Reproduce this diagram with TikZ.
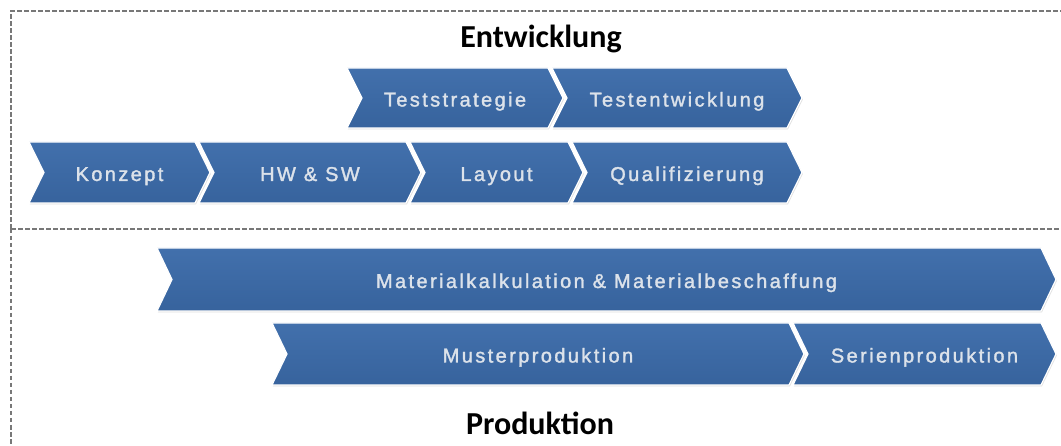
\documentclass[tikz,border=0pt]{standalone}
\usepackage{fontspec}
\newfontfamily\titlefont{Carlito}
\newfontfamily\chevfont[LetterSpace=12,FakeBold=1.6]{Liberation Sans}
\usetikzlibrary{shadows}
\definecolor{chevtop}{RGB}{66,112,172}
\definecolor{chevbot}{RGB}{55,99,157}
\definecolor{chevtext}{RGB}{220,226,234}
\definecolor{bordergray}{RGB}{120,120,120}
\tikzset{
  chevshape/.style={top color=chevtop, bottom color=chevbot, draw=white, line width=1.2pt,
    drop shadow={opacity=0.25, shadow xshift=0.8pt, shadow yshift=-1.5pt}},
  chevlabel/.style={text=chevtext, font=\chevfont\fontsize{20}{24}\selectfont, inner sep=0pt, anchor=base},
  border/.style={draw=bordergray, line width=1.2pt, dash pattern=on 4.5pt off 2.5pt},
  titlelabel/.style={font=\titlefont\bfseries\fontsize{32}{36}\selectfont, inner sep=0pt, anchor=base}
}
\newcommand\chevron[6]{%
  \path[chevshape] (#2,#4) -- ({#3-15},#4) -- (#3,{(#4+#5)/2}) -- ({#3-15},#5) -- (#2,#5) -- ({#2+15},{(#4+#5)/2}) -- cycle;
  \node[chevlabel] (#1) at ({(#2+#3)/2},{(#4+#5)/2+8.5}) {#6};
}
\begin{document}
\begin{tikzpicture}[x=1pt,y=-1pt]
\useasboundingbox (0,0) rectangle (1061,446);
\fill[white] (0,0) rectangle (1061,446);
% borders
\draw[border] (11,229) -- (11,11) -- (1062,11);
\draw[border] (11,229) -- (1062,229);
\draw[border] (11,229) -- (11,447);
% titles
\node[titlelabel] (entw) at (541,48) {Entwicklung};
\node[titlelabel] (prod) at (540,435) {Produktion};
% row 1
\chevron{tst}{347}{563}{68}{128}{Teststrategie}
\chevron{tew}{552}{802}{68}{128}{Testentwicklung}
% row 2
\chevron{konz}{29}{210}{142}{203}{Konzept}
\chevron{hwsw}{199}{421}{142}{203}{HW \& SW}
\chevron{lay}{410}{583}{142}{203}{Layout}
\chevron{qual}{572}{802}{142}{203}{Qualifizierung}
% row 3
\chevron{mat}{157}{1056}{248}{311}{Materialkalkulation \& Materialbeschaffung}
% row 4
\chevron{must}{272}{804}{323}{385}{Musterproduktion}
\chevron{ser}{793}{1056}{323}{385}{Serienproduktion}
\end{tikzpicture}
\end{document}
